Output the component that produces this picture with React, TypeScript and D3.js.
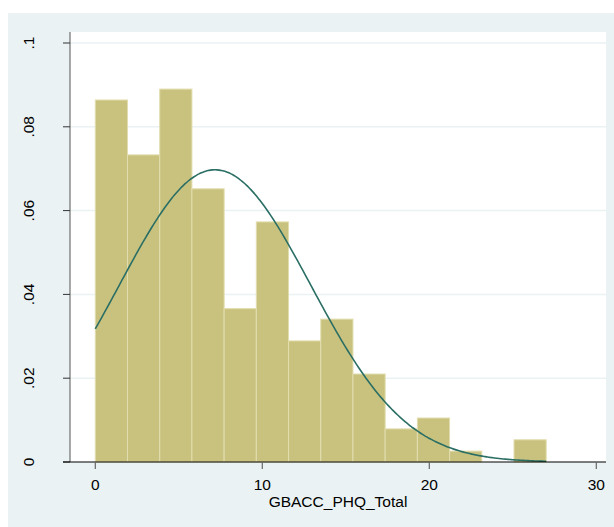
import React from "react";
import * as d3 from "d3";

const binStart = 0;
const binEnd = 27;
const densities = [0.0864, 0.0733, 0.089, 0.0652, 0.0366, 0.0573, 0.0289, 0.0341, 0.021, 0.0079, 0.0105, 0.0026, 0, 0.0053];
const xTicks = [0, 10, 20, 30];
const yTicks = [0, 0.02, 0.04, 0.06, 0.08, 0.1];
const yTickLabels = ["0", ".02", ".04", ".06", ".08", ".1"];
const normalMean = 7.17;
const normalSd = 5.72;
const xTitle = "GBACC_PHQ_Total";

const W = 614;
const H = 527;
const font = "'Liberation Sans', Arial, sans-serif";

export default function App() {
  const x = d3.scaleLinear().domain([0, 30]).range([95.3, 596.3]);
  const y = d3.scaleLinear().domain([0, 0.1]).range([462, 43]);
  const plot = { left: 70, top: 32, right: 606, bottom: 462 };
  const bw = (binEnd - binStart) / densities.length;

  const curvePts: [number, number][] = d3.range(0, 201).map((i) => {
    const xv = binStart + ((binEnd - binStart) * i) / 200;
    const z = (xv - normalMean) / normalSd;
    const dv = Math.exp(-0.5 * z * z) / (normalSd * Math.sqrt(2 * Math.PI));
    return [xv, dv];
  });
  const line = d3
    .line<[number, number]>()
    .x((d) => x(d[0]))
    .y((d) => y(d[1]))
    .curve(d3.curveBasis);

  return (
    <svg width={W} height={H} style={{ position: "absolute", left: 0, top: 0 }}>
      <rect x={8} y={13} width={W - 8} height={H - 13} fill="#EAF2F3" />
      <rect
        x={plot.left}
        y={plot.top}
        width={plot.right - plot.left}
        height={plot.bottom - plot.top}
        fill="#ffffff"
      />
      {yTicks.slice(1).map((t) => (
        <line
          key={"g" + t}
          x1={plot.left}
          x2={plot.right}
          y1={y(t)}
          y2={y(t)}
          stroke="#EAF2F3"
          strokeWidth={1.5}
        />
      ))}
      {densities.map((dv, i) => {
        const x0 = x(binStart + i * bw);
        const x1 = x(binStart + (i + 1) * bw);
        if (dv <= 0) return null;
        return (
          <rect
            key={"b" + i}
            x={x0}
            y={y(dv)}
            width={x1 - x0}
            height={y(0) - y(dv)}
            fill="#C9C27F"
            stroke="#E2DDAE"
            strokeWidth={1}
          />
        );
      })}
      <path d={line(curvePts) || ""} fill="none" stroke="#2A6E64" strokeWidth={1.6} />
      {/* y axis */}
      <line x1={plot.left} x2={plot.left} y1={plot.top} y2={plot.bottom} stroke="#555" strokeWidth={1} />
      {yTicks.map((t, i) => (
        <g key={"yt" + t}>
          <line x1={plot.left - 7} x2={plot.left} y1={y(t)} y2={y(t)} stroke="#333" strokeWidth={1} />
          <text
            transform={`translate(33.5,${y(t)}) rotate(-90)`}
            textAnchor="middle"
            fontFamily={font}
            fontSize={15.5}
            fill="#000"
          >
            {yTickLabels[i]}
          </text>
        </g>
      ))}
      {/* x axis */}
      <line x1={plot.left - 7} x2={plot.right} y1={plot.bottom} y2={plot.bottom} stroke="#000" strokeWidth={1.2} />
      {xTicks.map((t) => (
        <g key={"xt" + t}>
          <line x1={x(t)} x2={x(t)} y1={plot.bottom} y2={plot.bottom + 7} stroke="#666" strokeWidth={1.2} />
          <text x={x(t)} y={490} textAnchor="middle" fontFamily={font} fontSize={15.5} fill="#000">
            {t}
          </text>
        </g>
      ))}
      <text
        x={(plot.left + plot.right) / 2}
        y={507}
        textAnchor="middle"
        fontFamily={font}
        fontSize={15.5}
        fill="#000"
      >
        {xTitle}
      </text>
    </svg>
  );
}
